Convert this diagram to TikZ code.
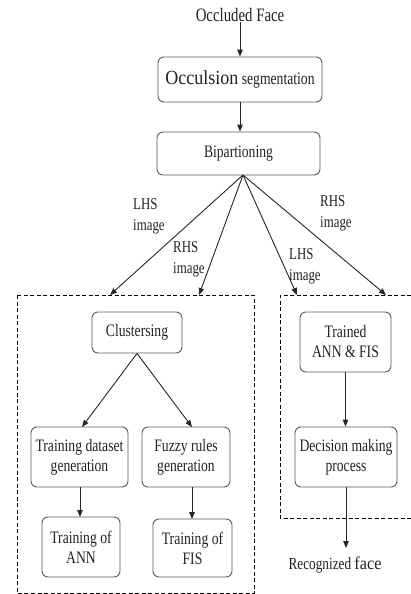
\documentclass[tikz,border=0pt]{standalone}
\usepackage{fontspec}
\setmainfont[FakeStretch=0.78]{Liberation Serif}
\newfontfamily\widefont[FakeStretch=0.9]{Liberation Serif}
\usetikzlibrary{arrows.meta}
\definecolor{txt}{HTML}{222222}
\definecolor{bord}{HTML}{5A5A5A}
\tikzset{
  box/.style={draw=bord, line width=0.9pt, rounded corners=6pt, align=center, inner sep=0pt,
    font=\fontsize{17.5}{20}\selectfont, text=txt},
  lbl/.style={align=left, inner sep=0pt, font=\fontsize{16.5}{21}\selectfont, text=txt, anchor=north west},
  arr/.style={draw=black!85, line width=0.9pt, -{Triangle[length=7pt,width=5.5pt]}},
  dbox/.style={draw=black, line width=1pt, dash pattern=on 4pt off 2.5pt},
}
\begin{document}
\begin{tikzpicture}[x=1pt,y=-1pt]
\useasboundingbox (0,0) rectangle (411,594);
% dashed boxes
\draw[dbox] (17,295) rectangle (254,593);
\draw[dbox] (411,295) -- (280,295) -- (280,518) -- (411,518);
% nodes
\node[inner sep=0pt, text=txt, font=\fontsize{19}{20}\selectfont] (face) at (240,15) {Occluded Face};
\node[box, minimum width=164pt, minimum height=45pt] (occ) at (240,79.5)
  {{\widefont\fontsize{20}{20}\selectfont Occulsion} segmentation};
\node[box, minimum width=163pt, minimum height=43pt] (bip) at (238.5,153.5) {Bipartioning};
\node[box, minimum width=90pt, minimum height=41pt] (clu) at (137,332.5) {Clustersing};
\node[box, minimum width=97pt, minimum height=60pt] (tdg) at (79.5,457) {Training dataset\\generation};
\node[box, minimum width=88pt, minimum height=60pt] (frg) at (186,457) {Fuzzy rules\\generation};
\node[box, minimum width=78pt, minimum height=60pt] (tann) at (81,547) {Training of\\ANN};
\node[box, minimum width=79pt, minimum height=58pt] (tfis) at (192.5,548) {Training of\\FIS};
\node[box, minimum width=91pt, minimum height=60pt] (trained) at (345.5,342) {Trained\\ANN \& FIS};
\node[box, minimum width=102pt, minimum height=60pt] (dmp) at (346,457) {Decision making\\process};
\node[inner sep=0pt, text=txt, font=\fontsize{17}{20}\selectfont] (rec) at (335,565)
  {Recognized\ {\widefont\fontsize{18}{20}\selectfont face}};
% labels
\node[lbl] (l1) at (133,198) {LHS\\image};
\node[lbl] (l2) at (173,241) {RHS\\image};
\node[lbl] (l3) at (289,248) {LHS\\image};
\node[lbl] (l4) at (320,195) {RHS\\image};
% coordinates
\coordinate (fan) at (243,175);
\coordinate (t1) at (110,295);
\coordinate (t2) at (199,295);
\coordinate (t3) at (297,295);
\coordinate (t4) at (386,295);
\coordinate (endp) at (346,548);
% connectors
\draw[arr] (face.south) -- (occ.north);
\draw[arr] (occ.south) -- (occ.south |- bip.north);
\draw[arr] (fan) -- (t1);
\draw[arr] (fan) -- (t2);
\draw[arr] (fan) -- (t3);
\draw[arr] (fan) -- (t4);
\draw[arr] (clu.south) -- (82,427);
\draw[arr] (clu.south) -- (192,427);
\draw[arr] (80,487) -- (80,517);
\draw[arr] (192,487) -- (192,519);
\draw[arr] (trained.south) -- (trained.south |- dmp.north);
\draw[arr] (dmp.south) -- (endp);
\end{tikzpicture}
\end{document}
